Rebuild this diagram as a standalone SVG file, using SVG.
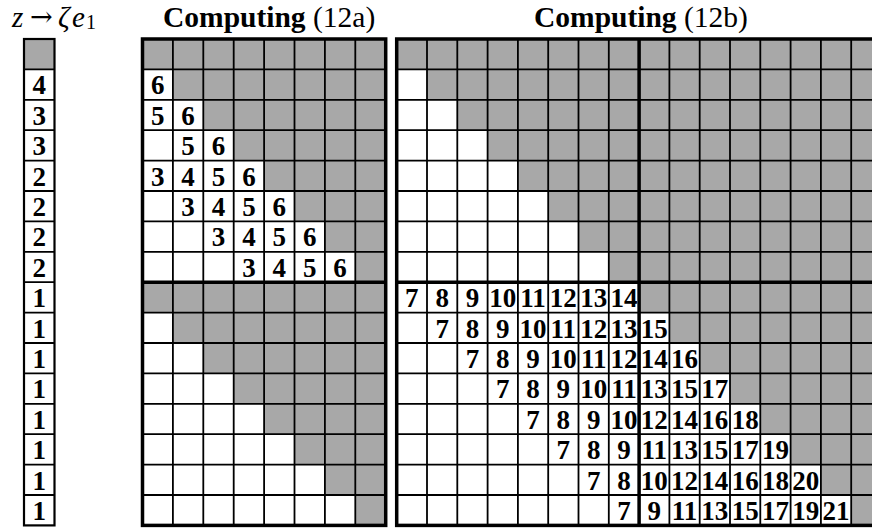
<svg xmlns="http://www.w3.org/2000/svg" width="872" height="528" viewBox="0 0 872 528">
<style>
.t{font-family:"Liberation Serif","Times New Roman",serif;fill:#000}
.n{font-family:"Liberation Serif","Times New Roman",serif;font-weight:bold;font-size:27px;text-anchor:middle;fill:#000}
.sh{fill:#a8a8a8}
.thin{fill:none;stroke:#000;stroke-width:1.8}
.thick{fill:none;stroke:#000;stroke-width:3.5}
.cb{fill:none;stroke:#000;stroke-width:2.2}
</style>
<defs>
<path id="stair" d="M0 0H8V8H7V7H6V6H5V5H4V4H3V3H2V2H1V1H0Z"/>
</defs>
<rect width="872" height="528" fill="#fff"/>

<g id="title-left" class="t" font-size="29">
<text x="12" y="27" font-style="italic">z</text>
<text x="30" y="26" font-family="DejaVu Serif,serif" font-size="27">→</text>
<text x="58" y="27" font-style="italic">ζ</text>
<text x="72" y="27" font-style="italic">e</text>
<text x="86" y="29" font-size="20">1</text>
</g>
<g id="title-12a"><text class="t" x="163" y="27" font-size="29.5"><tspan font-weight="bold">Computing</tspan> (12a)</text></g>
<g id="title-12b"><text class="t" x="534" y="27" font-size="29.5"><tspan font-weight="bold">Computing</tspan> (12b)</text></g>

<g id="col-z">
<rect class="sh" x="24" y="39" width="30.5" height="30.4"/>
<path class="thin" d="M24 69.4H54.5M24 99.8H54.5M24 130.2H54.5M24 160.6H54.5M24 191H54.5M24 221.4H54.5M24 251.8H54.5M24 282.2H54.5M24 312.6H54.5M24 343H54.5M24 373.4H54.5M24 403.8H54.5M24 434.2H54.5M24 464.6H54.5M24 495H54.5"/>
<rect class="cb" x="24" y="39" width="30.5" height="486.4"/>
<text class="n" x="39.2"><tspan y="94.3">4</tspan><tspan x="39.2" y="124.7">3</tspan><tspan x="39.2" y="155.1">3</tspan><tspan x="39.2" y="185.5">2</tspan><tspan x="39.2" y="215.9">2</tspan><tspan x="39.2" y="246.3">2</tspan><tspan x="39.2" y="276.7">2</tspan><tspan x="39.2" y="307.1">1</tspan><tspan x="39.2" y="337.5">1</tspan><tspan x="39.2" y="367.9">1</tspan><tspan x="39.2" y="398.3">1</tspan><tspan x="39.2" y="428.7">1</tspan><tspan x="39.2" y="459.1">1</tspan><tspan x="39.2" y="489.5">1</tspan><tspan x="39.2" y="519.9">1</tspan></text>
</g>

<g id="grid-12a">
<use href="#stair" class="sh" transform="translate(142.5 39) scale(30.4)"/>
<use href="#stair" class="sh" transform="translate(142.5 282.2) scale(30.4)"/>
<path class="thin" d="M172.9 39V525.4M203.3 39V525.4M233.7 39V525.4M264.1 39V525.4M294.5 39V525.4M324.9 39V525.4M355.3 39V525.4M142.5 69.4H385.7M142.5 99.8H385.7M142.5 130.2H385.7M142.5 160.6H385.7M142.5 191H385.7M142.5 221.4H385.7M142.5 251.8H385.7M142.5 312.6H385.7M142.5 343H385.7M142.5 373.4H385.7M142.5 403.8H385.7M142.5 434.2H385.7M142.5 464.6H385.7M142.5 495H385.7"/>
<rect class="thick" x="142.5" y="39" width="243.2" height="486.4"/>
<path class="thick" d="M142.5 282.2H385.7"/>
<text class="n" y="94.3"><tspan x="157.7">6</tspan></text>
<text class="n" y="124.7"><tspan x="157.7">5</tspan><tspan x="188.1">6</tspan></text>
<text class="n" y="155.1"><tspan x="188.1">5</tspan><tspan x="218.5">6</tspan></text>
<text class="n" y="185.5"><tspan x="157.7">3</tspan><tspan x="188.1">4</tspan><tspan x="218.5">5</tspan><tspan x="248.9">6</tspan></text>
<text class="n" y="215.9"><tspan x="188.1">3</tspan><tspan x="218.5">4</tspan><tspan x="248.9">5</tspan><tspan x="279.3">6</tspan></text>
<text class="n" y="246.3"><tspan x="218.5">3</tspan><tspan x="248.9">4</tspan><tspan x="279.3">5</tspan><tspan x="309.7">6</tspan></text>
<text class="n" y="276.7"><tspan x="248.9">3</tspan><tspan x="279.3">4</tspan><tspan x="309.7">5</tspan><tspan x="340.1">6</tspan></text>
</g>

<g id="grid-12b">
<use href="#stair" class="sh" transform="translate(396.7 39) scale(30.3 30.4)"/>
<rect class="sh" x="639.1" y="39" width="242.4" height="243.2"/>
<use href="#stair" class="sh" transform="translate(639.1 282.2) scale(30.3 30.4)"/>
<path class="thin" d="M427 39V525.4M457.3 39V525.4M487.6 39V525.4M517.9 39V525.4M548.2 39V525.4M578.5 39V525.4M608.8 39V525.4M669.4 39V525.4M699.7 39V525.4M730 39V525.4M760.3 39V525.4M790.6 39V525.4M820.9 39V525.4M851.2 39V525.4M396.7 69.4H881.5M396.7 99.8H881.5M396.7 130.2H881.5M396.7 160.6H881.5M396.7 191H881.5M396.7 221.4H881.5M396.7 251.8H881.5M396.7 312.6H881.5M396.7 343H881.5M396.7 373.4H881.5M396.7 403.8H881.5M396.7 434.2H881.5M396.7 464.6H881.5M396.7 495H881.5"/>
<rect class="thick" x="396.7" y="39" width="484.8" height="486.4"/>
<path class="thick" d="M396.7 282.2H881.5M639.1 39V525.4"/>
<text class="n" y="307.1"><tspan x="411.85">7</tspan><tspan x="442.15">8</tspan><tspan x="472.45">9</tspan><tspan x="502.75">10</tspan><tspan x="533.05">11</tspan><tspan x="563.35">12</tspan><tspan x="593.65">13</tspan><tspan x="623.95">14</tspan></text>
<text class="n" y="337.5"><tspan x="442.15">7</tspan><tspan x="472.45">8</tspan><tspan x="502.75">9</tspan><tspan x="533.05">10</tspan><tspan x="563.35">11</tspan><tspan x="593.65">12</tspan><tspan x="623.95">13</tspan><tspan x="654.25">15</tspan></text>
<text class="n" y="367.9"><tspan x="472.45">7</tspan><tspan x="502.75">8</tspan><tspan x="533.05">9</tspan><tspan x="563.35">10</tspan><tspan x="593.65">11</tspan><tspan x="623.95">12</tspan><tspan x="654.25">14</tspan><tspan x="684.55">16</tspan></text>
<text class="n" y="398.3"><tspan x="502.75">7</tspan><tspan x="533.05">8</tspan><tspan x="563.35">9</tspan><tspan x="593.65">10</tspan><tspan x="623.95">11</tspan><tspan x="654.25">13</tspan><tspan x="684.55">15</tspan><tspan x="714.85">17</tspan></text>
<text class="n" y="428.7"><tspan x="533.05">7</tspan><tspan x="563.35">8</tspan><tspan x="593.65">9</tspan><tspan x="623.95">10</tspan><tspan x="654.25">12</tspan><tspan x="684.55">14</tspan><tspan x="714.85">16</tspan><tspan x="745.15">18</tspan></text>
<text class="n" y="459.1"><tspan x="563.35">7</tspan><tspan x="593.65">8</tspan><tspan x="623.95">9</tspan><tspan x="654.25">11</tspan><tspan x="684.55">13</tspan><tspan x="714.85">15</tspan><tspan x="745.15">17</tspan><tspan x="775.45">19</tspan></text>
<text class="n" y="489.5"><tspan x="593.65">7</tspan><tspan x="623.95">8</tspan><tspan x="654.25">10</tspan><tspan x="684.55">12</tspan><tspan x="714.85">14</tspan><tspan x="745.15">16</tspan><tspan x="775.45">18</tspan><tspan x="805.75">20</tspan></text>
<text class="n" y="519.9"><tspan x="623.95">7</tspan><tspan x="654.25">9</tspan><tspan x="684.55">11</tspan><tspan x="714.85">13</tspan><tspan x="745.15">15</tspan><tspan x="775.45">17</tspan><tspan x="805.75">19</tspan><tspan x="836.05">21</tspan></text>
</g>
</svg>
